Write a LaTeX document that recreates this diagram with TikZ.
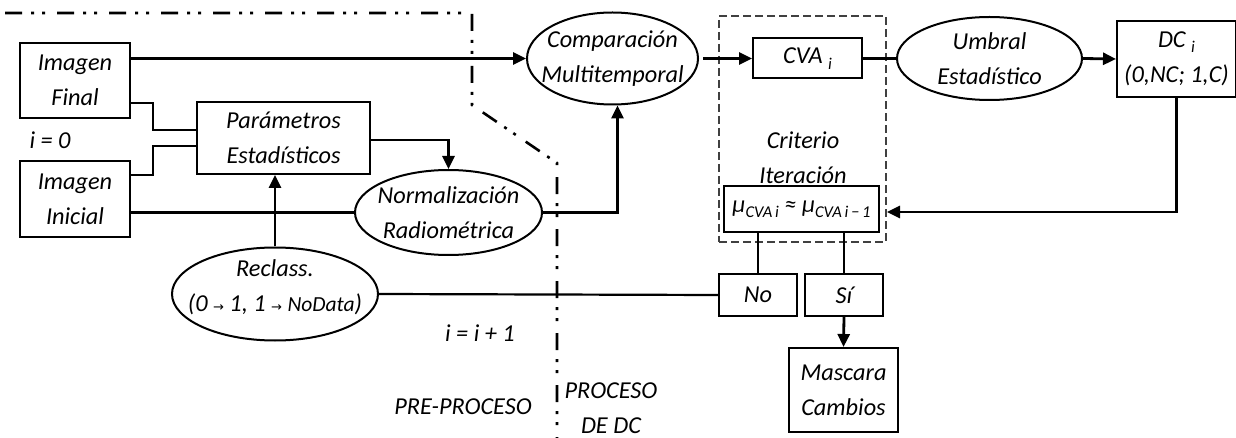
\documentclass[tikz,border=0pt]{standalone}
\usepackage{fontspec}
\setmainfont{Carlito}
\newfontfamily\dejavu{DejaVu Sans}
\usetikzlibrary{arrows.meta,shapes.geometric,calc}
\newcommand\lowsub[1]{\raisebox{-0.45ex}{\fontsize{16.5}{16}\selectfont #1}}
\newcommand\smarr{{\dejavu\fontsize{13}{13}\selectfont\upshape →}}
\newcommand\zb[1]{\makebox[0pt]{#1}}
\begin{document}
\begin{tikzpicture}[x=1pt,y=-1pt,
  every node/.style={font=\fontsize{24.3}{35}\selectfont\itshape, align=center, inner sep=0pt},
  boxn/.style={draw, line width=2pt, rectangle},
  elln/.style={draw, line width=2pt, ellipse},
  thinl/.style={line width=2.2pt},
  thickl/.style={line width=2.8pt},
  arr/.style={thickl, -{Triangle[length=13pt,width=12pt]}},
  sepline/.style={line width=2.6pt, dash pattern=on 17pt off 9pt on 3pt off 8pt on 3pt off 12pt},
  dbox/.style={draw=black!75, line width=1.4pt, dash pattern=on 8pt off 4pt},
  lbl/.style={}
  ]
\useasboundingbox (0,0) rectangle (1236,438);

% separation line
\draw[sepline] (5,13) -- (472,13) -- (472,105) -- (557,163) -- (557,438);

% nodes
\node[boxn, minimum width=110, minimum height=75] (final) at (75,80.5) {Imagen\\Final};
\node[boxn, minimum width=110, minimum height=76] (inicial) at (75,199) {Imagen\\Inicial};
\node[boxn, minimum width=173, minimum height=72] (param) at (283.5,138) {Parámetros\\Estadísticos};
\node[elln, minimum width=187, minimum height=85] (norm) at (448.5,212.5) {\zb{Normalización}\\\zb{Radiométrica}};
\node[elln, minimum width=206, minimum height=93,
  label={[yshift=7pt]center:{\zb{Reclass.}\\\zb{(0 \smarr\ 1, 1 \smarr\ {\fontsize{21.5}{21}\selectfont NoData})}}}] (reclass) at (275,294) {};
\node[elln, minimum width=171, minimum height=92] (comp) at (612.5,58.5) {\zb{Comparación}\\\zb{Multitemporal}};
\node[boxn, minimum width=109, minimum height=40] (cva) at (807.5,58.5) {CVA \lowsub{i}};
\node[elln, minimum width=185, minimum height=83] (umbral) at (989.5,58.5) {\zb{Umbral}\\\zb{Estadístico}};
\node[boxn, minimum width=119, minimum height=76] (dc) at (1176.5,59) {DC \lowsub{i}\\(0,NC; 1,C)};
\node[dbox, minimum width=167, minimum height=226] (critbox) at (802.5,129) {};
\node[lbl] (crit) at (803,158) {Criterio\\Iteración};
\node[boxn, minimum width=155, minimum height=46] (mu) at (801.5,209) {μ\lowsub{CVA\,i} ≈ μ\lowsub{CVA\,i\,−\,1}};
\node[boxn, minimum width=78, minimum height=42] (no) at (758,295) {No};
\node[boxn, minimum width=78, minimum height=42] (si) at (844,295) {Sí};
\node[boxn, minimum width=109, minimum height=84] (mascara) at (843.5,390) {Mascara\\Cambios};

\node[lbl] (i0) at (50,140) {i = 0};
\node[lbl] (ii) at (480,333) {i = i + 1};
\node[lbl] (pre) at (463,407) {PRE-PROCESO};
\node[lbl] (proc) at (611,408) {PROCESO\\DE DC};

% connectors
\draw[arr] (final.east |- comp.west) -- (comp.west);
\draw[thinl] ([yshift=16pt]final.south east) -| ([xshift=-43pt,yshift=8pt]param.west) -- ([yshift=8pt]param.west);
\draw[thinl] ([yshift=-15pt]inicial.north east) -| ([xshift=-43pt,yshift=-8pt]param.west) -- ([yshift=-8pt]param.west);
\draw[arr] ([yshift=-2pt]param.east) -| (norm.north);
\draw[thinl] (inicial.east |- norm.west) -- (norm.west);
\draw[arr] (reclass.north) -- (reclass.north |- param.south);
\draw[arr] (norm.east) -| ([xshift=5pt]comp.south);
\draw[arr] ([xshift=4pt]comp.east) -- (cva.west);
\draw[thickl] (cva.east) -- (umbral.west);
\draw[arr] (umbral.east) -- (dc.west);
\draw[arr] (dc.south) |- ([xshift=7pt,yshift=-3pt]mu.east);
\draw[thinl] (no.north |- mu.south) -- (no.north);
\draw[thinl] (si.north |- mu.south) -- (si.north);
\draw[thinl] (reclass.east) -- (no.west);
\draw[arr] (si.south) -- (mascara.north);
\end{tikzpicture}
\end{document}
